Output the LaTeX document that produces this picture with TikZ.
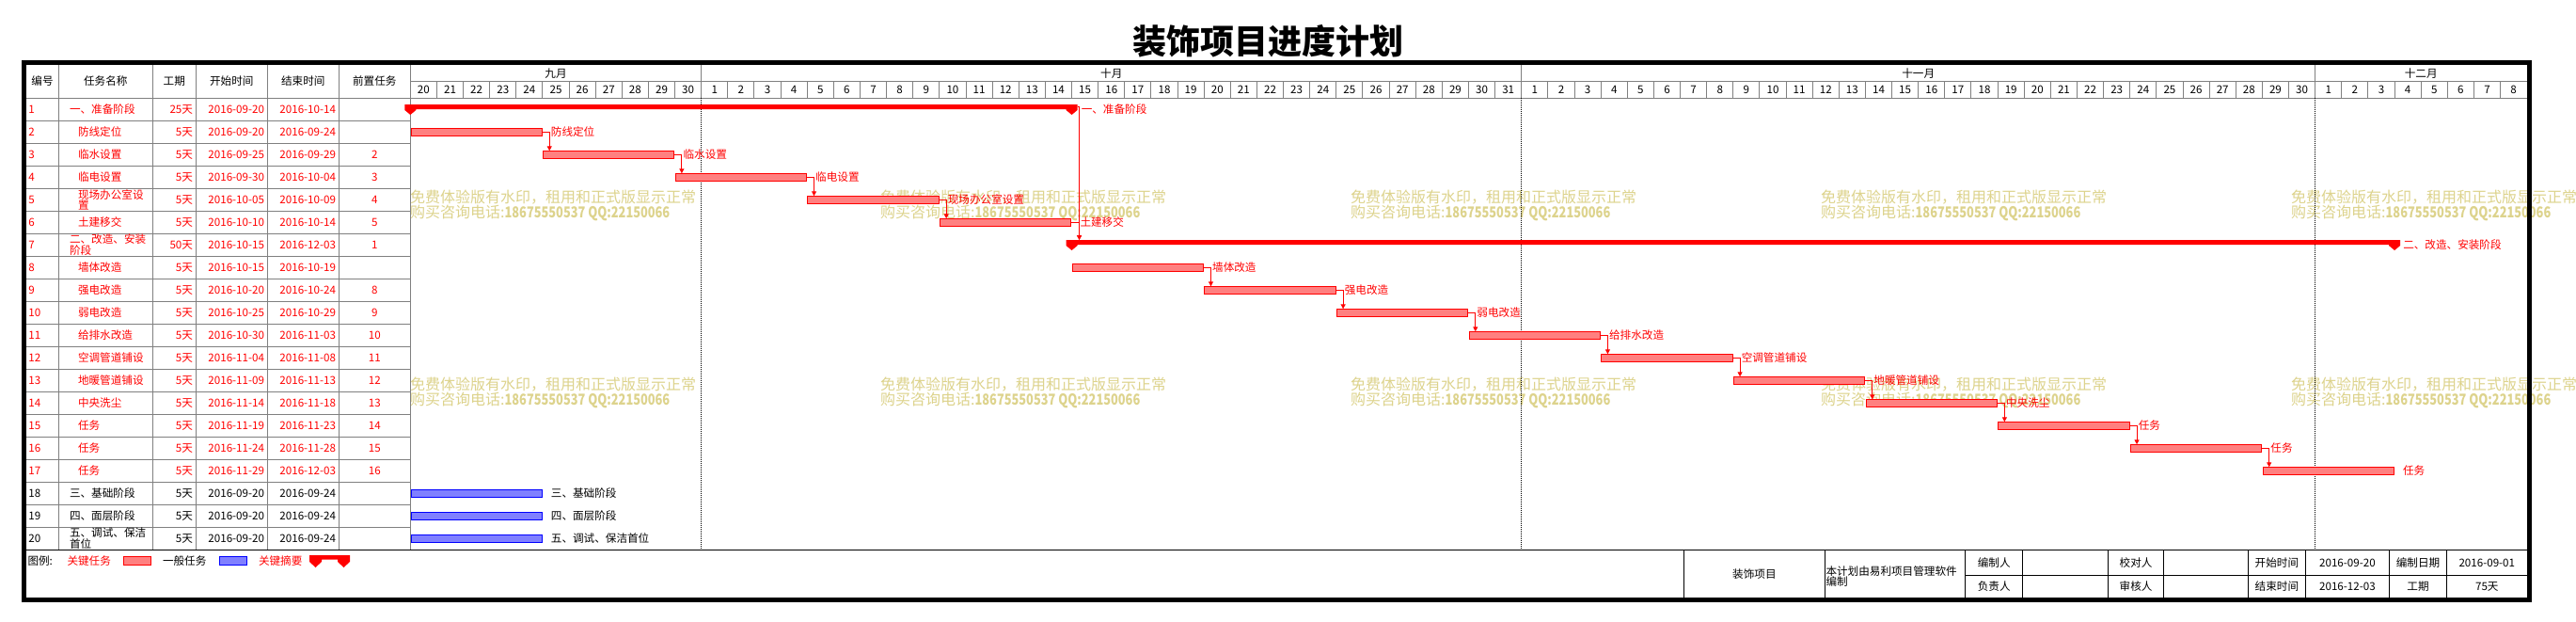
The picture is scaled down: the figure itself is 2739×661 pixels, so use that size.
\documentclass[tikz,border=0pt]{standalone}
\usepackage{fontspec}
\setmainfont{Noto Sans CJK SC}
\usepackage{graphicx}
\usetikzlibrary{arrows.meta,calc}
\definecolor{gridgray}{RGB}{128,128,128}
\definecolor{wmark}{RGB}{221,211,140}
\definecolor{redfill}{RGB}{255,128,128}
\definecolor{bluefill}{RGB}{128,128,255}
\def\ganttx{436.3}
\def\dayw{28.13}
\tikzset{
  tcell/.style={inner sep=0pt,outer sep=0pt,font=\fontsize{11.6}{11.6}\selectfont},
  dcell/.style={inner sep=0pt,font=\fontsize{11.6}{11.6}\selectfont},
  glbl/.style={inner sep=0pt,anchor=west,text=red,font=\fontsize{11.6}{11.6}\selectfont},
  gline/.style={draw=gridgray,line width=1pt},
  bline/.style={draw=black,line width=1pt},
  rbar/.style={draw=red,fill=redfill,line width=1pt,minimum width=139.2pt,minimum height=8pt,inner sep=0pt,outer sep=0pt},
  bbar/.style={draw=blue,fill=bluefill,line width=1pt,minimum width=139.2pt,minimum height=8pt,inner sep=0pt,outer sep=0pt},
  gconn/.style={draw=red,line width=1pt,-{Triangle[length=5pt,width=5pt]}},
  wm/.style={inner sep=0pt,anchor=west,text=wmark,font=\fontsize{16}{16}\selectfont},
}
\newcommand\trow[8]{%
  \pgfmathsetmacro\ry{116.3+(#1-1)*24}%
  \node[tcell,text=#2,anchor=west] (no#1) at (30.5,\ry) {#1};
  \node[tcell,text=#2,anchor=west,align=left] (nm#1) at (#3,\ry) {#4};
  \node[tcell,text=#2,anchor=east] (du#1) at (205,\ry) {#5};
  \node[tcell,text=#2,anchor=east] (st#1) at (281,\ry) {#6};
  \node[tcell,text=#2,anchor=east] (en#1) at (357,\ry) {#7};
  \node[tcell,text=#2] (pr#1) at (398.3,\ry) {#8};
}
\newcommand\gbar[4]{%
  \pgfmathsetmacro\by{116.3+(#2-1)*24}%
  \pgfmathsetmacro\bx{\ganttx+(#3+2.5)*\dayw}%
  \node[#4] (#1) at (\bx,\by) {};
}
\newcommand\summ[4]{%
  \pgfmathsetmacro\sa{\ganttx+#2*\dayw}%
  \pgfmathsetmacro\sb{\ganttx+#3*\dayw}%
  \coordinate (#1s) at (\sa,#4);
  \coordinate (#1e) at (\sb,#4);
  \fill[red] ($(#1s)+(-6,0)$) -- ($(#1e)+(6,0)$) -- ($(#1e)+(6,6)$) -- ($(#1e)+(0,11)$) -- ($(#1e)+(-6,6)$) -- ($(#1e)+(-6,5)$) -- ($(#1s)+(6,5)$) -- ($(#1s)+(6,6)$) -- ($(#1s)+(0,11)$) -- ($(#1s)+(-6,6)$) -- cycle;
}
\begin{document}
\begin{tikzpicture}[x=1pt,y=-1pt]
\useasboundingbox (0,0) rectangle (2739,661);
\fill[white] (0,0) rectangle (2739,661);

% title
\node[inner sep=0pt,font=\fontsize{36}{36}\selectfont\bfseries] (title) at (1348,43.5) {装饰项目进度计划};

% watermarks
\foreach \k in {0,...,4}{
  \foreach \wy [count=\j] in {209.3,408.3}{
    \node[wm] (wa\k\j) at ({436+500*\k},\wy) {免费体验版有水印，租用和正式版显示正常};
    \node[wm] (wb\k\j) at ({436+500*\k},\wy+17) {购买咨询电话:\scalebox{0.8}[1]{\bfseries 18675550537 QQ:22150066}};
  }
}

% table grid
\foreach \xx in {62.3,162.3,208.3,284.3,360.3,436.3}{
  \draw[gline] (\xx,69) -- (\xx,584.3);
}
\foreach \k in {1,...,19}{
  \draw[gline] (28,{104.3+24*\k}) -- (436.3,{104.3+24*\k});
}
\draw[gline] (28,104.3) -- (2687,104.3);
\draw[gline] (436.3,86.7) -- (2687,86.7);
% day lines
\foreach \i in {1,...,79}{
  \draw[gline] ({\ganttx+\i*\dayw},86.7) -- ({\ganttx+\i*\dayw},104.3);
}
\foreach \i in {11,42,72}{
  \draw[gline] ({\ganttx+\i*\dayw},69) -- ({\ganttx+\i*\dayw},86.7);
  \draw[black,line width=1pt,dash pattern=on 1pt off 1pt] ({\ganttx+\i*\dayw},104.3) -- ({\ganttx+\i*\dayw},584.3);
}
\draw[bline] (28,584.8) -- (2687,584.8);

% header
\node[tcell] (h1) at (45,86.5) {编号};
\node[tcell] (h2) at (112.3,86.5) {任务名称};
\node[tcell] (h3) at (185.3,86.5) {工期};
\node[tcell] (h4) at (246.3,86.5) {开始时间};
\node[tcell] (h5) at (322.3,86.5) {结束时间};
\node[tcell] (h6) at (398.3,86.5) {前置任务};

% months
\node[tcell] (mSep) at ({\ganttx+5.5*\dayw},77.9) {九月};
\node[tcell] (mOct) at ({\ganttx+26.5*\dayw},77.9) {十月};
\node[tcell] (mNov) at ({\ganttx+57*\dayw},77.9) {十一月};
\node[tcell] (mDec) at ({\ganttx+76*\dayw},77.9) {十二月};
% days
\foreach \d in {20,...,30}{\node[dcell] (dS\d) at ({\ganttx+(\d-20+0.5)*\dayw},95.5) {\d};}
\foreach \d in {1,...,31}{\node[dcell] (dO\d) at ({\ganttx+(\d+10.5)*\dayw},95.5) {\d};}
\foreach \d in {1,...,30}{\node[dcell] (dN\d) at ({\ganttx+(\d+41.5)*\dayw},95.5) {\d};}
\foreach \d in {1,...,8}{\node[dcell] (dD\d) at ({\ganttx+(\d+71.5)*\dayw},95.5) {\d};}

% table rows
\trow{1}{red}{74}{一、准备阶段}{25天}{2016-09-20}{2016-10-14}{}
\trow{2}{red}{83}{防线定位}{5天}{2016-09-20}{2016-09-24}{}
\trow{3}{red}{83}{临水设置}{5天}{2016-09-25}{2016-09-29}{2}
\trow{4}{red}{83}{临电设置}{5天}{2016-09-30}{2016-10-04}{3}
\trow{5}{red}{83}{现场办公室设\\置}{5天}{2016-10-05}{2016-10-09}{4}
\trow{6}{red}{83}{土建移交}{5天}{2016-10-10}{2016-10-14}{5}
\trow{7}{red}{74}{二、改造、安装\\阶段}{50天}{2016-10-15}{2016-12-03}{1}
\trow{8}{red}{83}{墙体改造}{5天}{2016-10-15}{2016-10-19}{}
\trow{9}{red}{83}{强电改造}{5天}{2016-10-20}{2016-10-24}{8}
\trow{10}{red}{83}{弱电改造}{5天}{2016-10-25}{2016-10-29}{9}
\trow{11}{red}{83}{给排水改造}{5天}{2016-10-30}{2016-11-03}{10}
\trow{12}{red}{83}{空调管道铺设}{5天}{2016-11-04}{2016-11-08}{11}
\trow{13}{red}{83}{地暖管道铺设}{5天}{2016-11-09}{2016-11-13}{12}
\trow{14}{red}{83}{中央洗尘}{5天}{2016-11-14}{2016-11-18}{13}
\trow{15}{red}{83}{任务}{5天}{2016-11-19}{2016-11-23}{14}
\trow{16}{red}{83}{任务}{5天}{2016-11-24}{2016-11-28}{15}
\trow{17}{red}{83}{任务}{5天}{2016-11-29}{2016-12-03}{16}
\trow{18}{black}{74}{三、基础阶段}{5天}{2016-09-20}{2016-09-24}{}
\trow{19}{black}{74}{四、面层阶段}{5天}{2016-09-20}{2016-09-24}{}
\trow{20}{black}{74}{五、调试、保洁\\首位}{5天}{2016-09-20}{2016-09-24}{}

% summaries
\summ{sa}{0}{25}{111}
\summ{sb}{25}{75}{255}
\node[glbl] (lsa) at ($(sae)+(10,5.3)$) {一、准备阶段};
\node[glbl] (lsb) at ($(sbe)+(9,5.3)$) {二、改造、安装阶段};

% task bars
\gbar{b2}{2}{0}{rbar}
\gbar{b3}{3}{5}{rbar}
\gbar{b4}{4}{10}{rbar}
\gbar{b5}{5}{15}{rbar}
\gbar{b6}{6}{20}{rbar}
\gbar{b8}{8}{25}{rbar}
\gbar{b9}{9}{30}{rbar}
\gbar{b10}{10}{35}{rbar}
\gbar{b11}{11}{40}{rbar}
\gbar{b12}{12}{45}{rbar}
\gbar{b13}{13}{50}{rbar}
\gbar{b14}{14}{55}{rbar}
\gbar{b15}{15}{60}{rbar}
\gbar{b16}{16}{65}{rbar}
\gbar{b17}{17}{70}{rbar}
\gbar{b18}{18}{0}{bbar}
\gbar{b19}{19}{0}{bbar}
\gbar{b20}{20}{0}{bbar}

% connectors
\foreach \a/\b in {2/3,3/4,4/5,5/6,8/9,9/10,10/11,11/12,12/13,13/14,14/15,15/16,16/17}{
  \draw[gconn] (b\a.east) -- ++(8,0) coordinate (k\a) -- (k\a |- b\b.north);
}
\draw[gconn] ($(sae)+(6,2.5)$) -| ($(sbs)+(8,0)$);
\draw[gconn] (b6.east) -| ($(sbs)+(8,0)$);

% bar labels
\foreach \a/\t in {2/防线定位,3/临水设置,4/临电设置,5/现场办公室设置,6/土建移交,8/墙体改造,9/强电改造,10/弱电改造,11/给排水改造,12/空调管道铺设,13/地暖管道铺设,14/中央洗尘,15/任务,16/任务,17/任务}{
  \node[glbl] (l\a) at ([xshift=9.5pt]b\a.east) {\t};
}
\node[glbl,text=black] (l18) at ([xshift=9.5pt]b18.east) {三、基础阶段};
\node[glbl,text=black] (l19) at ([xshift=9.5pt]b19.east) {四、面层阶段};
\node[glbl,text=black] (l20) at ([xshift=9.5pt]b20.east) {五、调试、保洁首位};

% legend
\node[tcell,anchor=west] (lg0) at (29.5,596) {图例:};
\node[tcell,anchor=west,text=red] (lg1) at (71.5,596) {关键任务};
\node[rbar,minimum width=29pt,minimum height=8.7pt] (lgR) at (146,595.8) {};
\node[tcell,anchor=west] (lg2) at (173,596) {一般任务};
\node[bbar,minimum width=29pt,minimum height=8.7pt] (lgB) at (248,595.8) {};
\node[tcell,anchor=west,text=red] (lg3) at (275,596) {关键摘要};
\fill[red] (329,590) -- (372,590) -- (372,597) -- (365.5,603) -- (359,597) -- (359,594.5) -- (342,594.5) -- (342,597) -- (335.5,603) -- (329,597) -- cycle;

% info table
\foreach \xx in {1790.7,1940.1,2089.6,2150.7,2241.4,2300.8,2390.9,2451.4,2540.4,2601.5}{
  \draw[bline] (\xx,584.8) -- (\xx,635);
}
\draw[bline] (2089.6,611.7) -- (2687,611.7);
\node[tcell] (i1) at (1865.4,610) {装饰项目};
\node[tcell,anchor=west,align=left] (i2) at (1941.5,612.5) {本计划由易利项目管理软件\\编制};
\node[tcell] (i3) at (2120.2,598.3) {编制人};
\node[tcell] (i4) at (2120.2,623.3) {负责人};
\node[tcell] (i5) at (2271.1,598.3) {校对人};
\node[tcell] (i6) at (2271.1,623.3) {审核人};
\node[tcell] (i7) at (2420.9,598.3) {开始时间};
\node[tcell] (i8) at (2420.9,623.3) {结束时间};
\node[tcell] (i9) at (2495.9,598.3) {2016-09-20};
\node[tcell] (i10) at (2495.9,623.3) {2016-12-03};
\node[tcell] (i11) at (2571,598.3) {编制日期};
\node[tcell] (i12) at (2571,623.3) {工期};
\node[tcell] (i13) at (2644.3,598.3) {2016-09-01};
\node[tcell] (i14) at (2644.3,623.3) {75天};

% outer border
\draw[black,line width=5pt] (25.7,66.7) rectangle (2689.7,637.4);
\end{tikzpicture}
\end{document}
